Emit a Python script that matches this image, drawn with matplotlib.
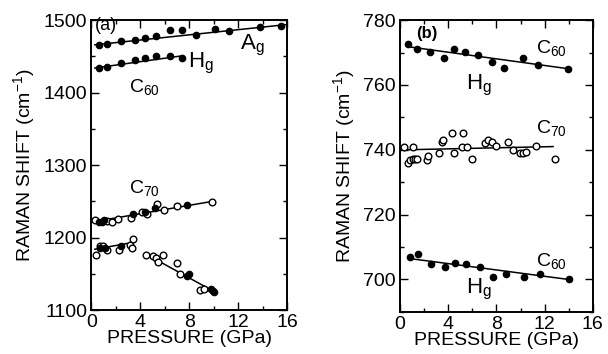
import matplotlib.pyplot as plt
from matplotlib.ticker import MultipleLocator

plt.rcParams['font.family'] = ['Liberation Sans', 'DejaVu Sans']

# (a) C60 Ag
a_ag_p = [0.65, 1.33, 2.42, 3.6, 4.4, 5.3, 6.4, 7.4, 8.6, 10.1, 11.3, 13.8, 15.5]
a_ag_w = [1465.5, 1466.5, 1471, 1472.4, 1476, 1478.3, 1486, 1486, 1479, 1488.5, 1485, 1490.8, 1491.7]
a_ag_fit_p = [0.3, 16.0]
a_ag_fit_w = [1466, 1494]

# (a) C60 Hg
a_hg_p = [0.65, 1.33, 2.42, 3.6, 4.4, 5.3, 6.4, 7.4]
a_hg_w = [1434, 1435.6, 1441, 1445.7, 1448.5, 1450.8, 1450.3, 1448]
a_hg_fit_p = [0.3, 7.5]
a_hg_fit_w = [1434, 1451]

# (a) C70 upper mode
a_c70u_open_p = [0.33, 1.28, 1.69, 2.23, 3.24, 4.14, 4.54, 5.36, 5.98, 7.0, 9.85]
a_c70u_open_w = [1224, 1223, 1222, 1226, 1226.5, 1235.6, 1233, 1246, 1238, 1244, 1248.6]
a_c70u_fill_p = [0.6, 0.87, 1.06, 3.45, 4.4, 5.2, 7.8]
a_c70u_fill_w = [1221, 1222, 1224, 1233, 1236, 1241, 1245]
a_c70u_fit_p = [0.2, 9.9]
a_c70u_fit_w = [1222, 1250]

# (a) C70 lower mode, low pressure
a_c70l_open_p = [0.4, 0.75, 1.0, 1.3, 2.3, 3.15, 3.3, 3.45]
a_c70l_open_w = [1176, 1188, 1188, 1183, 1183.6, 1189.5, 1186, 1198.6]
a_c70l_fill_p = [0.7, 1.1, 2.4]
a_c70l_fill_w = [1185, 1185, 1189]
a_c70l_fit_p = [0.3, 3.3]
a_c70l_fit_w = [1184, 1193]

# (a) C70 lower mode, high pressure
a_c70h_open_p = [4.46, 5.09, 5.31, 5.5, 5.9, 7.0, 7.27, 8.9, 9.22]
a_c70h_open_w = [1176.2, 1175, 1171.4, 1166, 1176.2, 1165.5, 1149.5, 1128, 1129.5]
a_c70h_fill_p = [7.86, 8.02, 9.77, 9.98, 10.07]
a_c70h_fill_w = [1147.7, 1149.5, 1129.5, 1126, 1125]
a_c70h_fit_p = [4.4, 10.1]
a_c70h_fit_w = [1178, 1125]

# (b) C60 Hg upper
b_c60u_p = [0.69, 1.44, 2.49, 3.65, 4.48, 5.39, 6.49, 7.6, 8.65, 10.2, 11.47, 13.96]
b_c60u_w = [772.5, 771.1, 770.1, 768.2, 771.1, 770.1, 769.4, 767.2, 765.1, 768.2, 766.1, 765.0]
b_c60u_fit_p = [0.7, 14.0]
b_c60u_fit_w = [771.8, 765.0]

# (b) C70
b_c70_p = [0.33, 0.69, 0.83, 1.1, 1.24, 1.1, 1.44, 2.27, 2.35, 3.26, 3.46, 3.59, 4.28, 4.48,
           5.25, 5.17, 5.53, 6.0, 7.05, 7.33, 7.66, 8.0, 8.98, 9.4, 9.95, 10.2, 10.45, 11.28, 12.85]
b_c70_w = [741.0, 735.9, 736.9, 737.1, 737.1, 741.0, 737.1, 736.9, 738.0, 739.0, 742.3, 743.1, 745.1, 739.0,
           745.1, 741.0, 741.0, 737.2, 742.0, 743.1, 742.3, 741.2, 742.3, 740.0, 739.0, 739.0, 739.3, 741.2, 737.1]
b_c70_fit_p = [0.3, 12.7]
b_c70_fit_w = [740.0, 741.0]

# (b) C60 Hg lower
b_c60l_p = [0.83, 1.52, 2.57, 3.73, 4.56, 5.47, 6.63, 7.69, 8.76, 10.28, 11.6, 14.04]
b_c60l_w = [707, 708, 704.8, 703.8, 705, 704.8, 703.9, 700.8, 701.8, 700.8, 701.8, 700]
b_c60l_fit_p = [0.7, 14.0]
b_c60l_fit_w = [706.5, 700.0]

fig = plt.figure(figsize=(6.08, 3.54), dpi=100)
ax1 = fig.add_axes([0.150, 0.124, 0.322, 0.819])
ax2 = fig.add_axes([0.658, 0.119, 0.317, 0.824])

fill_kw = dict(ls='none', marker='o', ms=4.5, mfc='black', mec='black')
open_kw = dict(ls='none', marker='o', ms=4.8, mfc='white', mec='black', mew=1.0)
line_kw = dict(color='black', lw=1.1)

# panel a
ax1.plot(a_ag_fit_p, a_ag_fit_w, **line_kw)
ax1.plot(a_ag_p, a_ag_w, **fill_kw)
ax1.plot(a_hg_fit_p, a_hg_fit_w, **line_kw)
ax1.plot(a_hg_p, a_hg_w, **fill_kw)
for fp, fw, op, ow, sp, sw in [
        (a_c70u_fit_p, a_c70u_fit_w, a_c70u_open_p, a_c70u_open_w, a_c70u_fill_p, a_c70u_fill_w),
        (a_c70l_fit_p, a_c70l_fit_w, a_c70l_open_p, a_c70l_open_w, a_c70l_fill_p, a_c70l_fill_w),
        (a_c70h_fit_p, a_c70h_fit_w, a_c70h_open_p, a_c70h_open_w, a_c70h_fill_p, a_c70h_fill_w)]:
    ax1.plot(fp, fw, **line_kw)
    ax1.plot(op, ow, **open_kw)
    ax1.plot(sp, sw, **fill_kw)

ax1.set_xlim(0, 16)
ax1.set_ylim(1100, 1500)
ax1.yaxis.set_major_locator(MultipleLocator(100))
ax1.yaxis.set_minor_locator(MultipleLocator(50))

ax1.text(0.3, 1492, '(a)', fontsize=13, va='center')
ax1.text(12.2, 1465, 'A$_\\mathregular{g}$', fontsize=16, va='center')
ax1.text(7.9, 1440, 'H$_\\mathregular{g}$', fontsize=16, va='center')
ax1.text(3.1, 1407, 'C$_\\mathregular{60}$', fontsize=14, va='center')
ax1.text(3.1, 1267, 'C$_\\mathregular{70}$', fontsize=14, va='center')

# panel b
ax2.plot(b_c60u_fit_p, b_c60u_fit_w, **line_kw)
ax2.plot(b_c60u_p, b_c60u_w, **fill_kw)
ax2.plot(b_c70_fit_p, b_c70_fit_w, **line_kw)
ax2.plot(b_c70_p, b_c70_w, **open_kw)
ax2.plot(b_c60l_fit_p, b_c60l_fit_w, **line_kw)
ax2.plot(b_c60l_p, b_c60l_w, **fill_kw)

ax2.set_xlim(0, 16)
ax2.set_ylim(690, 780)
ax2.yaxis.set_major_locator(MultipleLocator(20))
ax2.yaxis.set_minor_locator(MultipleLocator(10))

ax2.text(1.3, 776, '(b)', fontsize=12, va='center', fontweight='bold')
ax2.text(11.3, 771, 'C$_\\mathregular{60}$', fontsize=14, va='center')
ax2.text(5.5, 760, 'H$_\\mathregular{g}$', fontsize=16, va='center')
ax2.text(11.3, 746.5, 'C$_\\mathregular{70}$', fontsize=14, va='center')
ax2.text(11.3, 705.5, 'C$_\\mathregular{60}$', fontsize=14, va='center')
ax2.text(5.5, 697, 'H$_\\mathregular{g}$', fontsize=16, va='center')

for ax in (ax1, ax2):
    ax.xaxis.set_major_locator(MultipleLocator(4))
    ax.xaxis.set_minor_locator(MultipleLocator(2))
    ax.tick_params(which='both', direction='in', top=True, right=True, labelsize=14, width=1.0)
    ax.tick_params(which='major', length=6, pad=3)
    ax.tick_params(which='minor', length=3)
    for s in ax.spines.values():
        s.set_linewidth(1.4)
    ax.set_xlabel('PRESSURE (GPa)', fontsize=14, labelpad=-1)
    ax.set_ylabel('RAMAN SHIFT (cm$^\\mathregular{-1}$)', fontsize=14, labelpad=4)

fig.savefig('out.png', dpi=100)
